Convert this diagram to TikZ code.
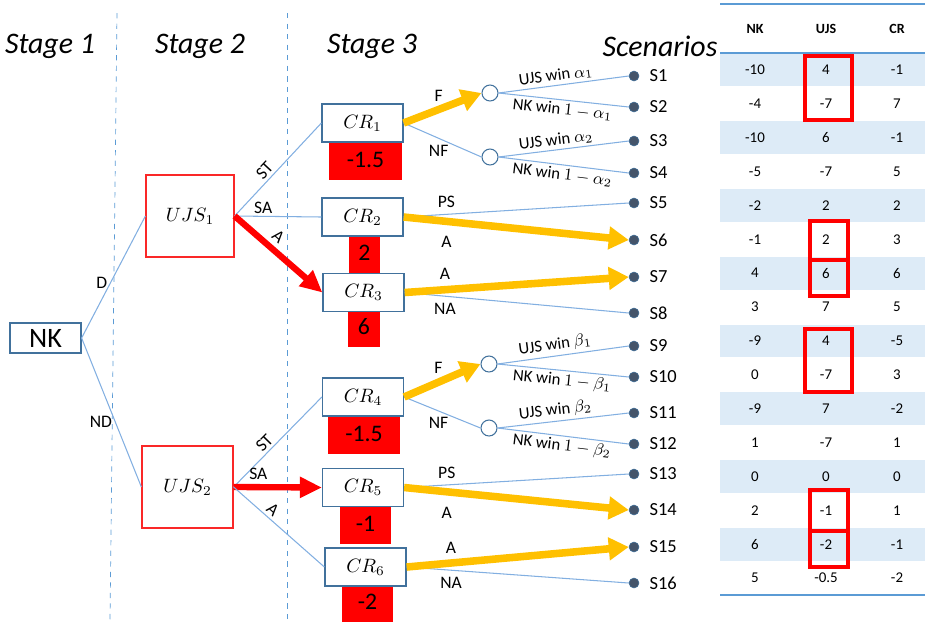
\documentclass[tikz,border=0pt]{standalone}
\usepackage{fix-cm}
\usepackage{fontspec}
\setmainfont{Carlito}
\usetikzlibrary{arrows.meta}
\definecolor{boxBlue}{RGB}{65,113,156}
\definecolor{lineBlue}{RGB}{130,175,225}
\definecolor{sepBlue}{RGB}{91,155,213}
\definecolor{arrYellow}{RGB}{255,192,0}
\definecolor{valRed}{RGB}{255,0,0}
\definecolor{ujsRed}{RGB}{250,40,40}
\definecolor{dotNavy}{RGB}{68,84,106}
\definecolor{rowShade}{RGB}{221,235,247}

\begin{document}
\begin{tikzpicture}[x=0.2mm, y=-0.2mm,
    stage/.style={font=\fontsize{17}{19}\selectfont\itshape},
    nkbox/.style={rectangle, draw=boxBlue, line width=0.7pt,
                  minimum width=14.2mm, minimum height=6mm, font=\fontsize{16}{18}\selectfont},
    ujsbox/.style={rectangle, draw=ujsRed, line width=0.7pt,
                   minimum width=17.6mm, minimum height=16.4mm, font=\fontsize{11}{14}\selectfont},
    crbox/.style={rectangle, draw=boxBlue, fill=white, line width=0.7pt,
                  minimum width=16.2mm, minimum height=7.6mm, font=\fontsize{11}{13}\selectfont},
    valbox/.style={rectangle, fill=valRed, minimum height=8mm, inner sep=0pt,
                   font=\fontsize{13.5}{15}\selectfont},
    chance/.style={circle, draw=boxBlue, fill=white, line width=0.6pt,
                   minimum size=3.2mm, inner sep=0pt},
    scen/.style={circle, fill=dotNavy, draw=boxBlue, line width=0.3pt,
                 minimum size=2mm, inner sep=0pt},
    slabel/.style={font=\fontsize{10.5}{12}\selectfont, inner sep=0pt, xshift=2mm},
    lab/.style={font=\fontsize{10}{12}\selectfont, inner sep=1.5pt},
    plab/.style={font=\fontsize{9.5}{11}\selectfont, sloped, inner sep=1.5pt},
    thead/.style={font=\fontsize{8}{10}\selectfont\bfseries},
    tcell/.style={font=\fontsize{8.5}{10}\selectfont},
    sep/.style={sepBlue, dashed, line width=0.4pt},
    br/.style={draw=lineBlue, line width=0.6pt},
    yarr/.style={draw=arrYellow, line width=4.3pt, -{Triangle[length=4mm, width=4.4mm]}},
    rarr/.style={draw=valRed, line width=3.6pt, -{Triangle[length=4.4mm, width=4mm]}},
    hilite/.style={draw=valRed, line width=0.7mm}
  ]
  \useasboundingbox (0,0) rectangle (925,621);

  % stage separators and headings
  \draw[sep] (117,13) -- (110,620);
  \draw[sep] (287,13) -- (287,620);
  \node[stage] (st1) at (50,46) {Stage 1};
  \node[stage] (st2) at (200,46) {Stage 2};
  \node[stage] (st3) at (372,46) {Stage 3};
  \node[stage] (scn) at (660,46) {Scenarios};

  \node[nkbox] (nk) at (45.5,338) {NK};
  \node[ujsbox] (ujs1) at (190,216) {$UJS_1$};
  \node[ujsbox, minimum width=18.2mm] (ujs2) at (187.5,487) {$UJS_2$};

  \node[valbox, minimum width=14.6mm] (v1) at (365.5,160) {-1.5};
  \node[valbox, minimum width=6.2mm]  (v2) at (364.5,253) {2};
  \node[valbox, minimum width=6.4mm]  (v3) at (364,327) {6};
  \node[valbox, minimum width=14.4mm] (v4) at (364,434) {-1.5};
  \node[valbox, minimum width=10.2mm] (v5) at (365.5,524) {-1};
  \node[valbox, minimum width=10.2mm] (v6) at (367.5,602) {-2};

  \node[crbox] (cr1) at (362.5,123) {$CR_1$};
  \node[crbox] (cr2) at (362.5,217) {$CR_2$};
  \node[crbox] (cr3) at (363.5,292.5) {$CR_3$};
  \node[crbox] (cr4) at (363,397) {$CR_4$};
  \node[crbox] (cr5) at (363,487.5) {$CR_5$};
  \node[crbox] (cr6) at (365.5,567) {$CR_6$};

  \node[chance] (c1) at (490,93) {};
  \node[chance] (c2) at (490,157) {};
  \node[chance] (c3) at (489,364) {};
  \node[chance] (c4) at (489,428) {};

  \foreach \yy [count=\i] in {76,107,141,173,203,240,277,313,346,377,413,444,474,510,547,583}
    \node[scen, label={[slabel]right:S\i}] (s\i) at (634,\yy) {};

  % stage 1 and 2
  \draw[br] (nk.east) -- node[lab, left, pos=0.45] {D} (ujs1.west);
  \draw[br] (nk.east) -- node[lab, left, pos=0.56] {ND} (ujs2.west);
  \draw[br] (ujs1.east) -- node[lab, sloped, above, pos=0.42] {ST} (cr1.west);
  \draw[br] (ujs1.east) -- node[lab, above, pos=0.33] {SA} (cr2.west);
  \draw[rarr] (ujs1.east) -- node[lab, sloped, above=1pt, pos=0.4] {A} (cr3.west);
  \draw[br] (ujs2.east) -- node[lab, sloped, above, pos=0.42] {ST} (cr4.west);
  \draw[rarr] (ujs2.east) -- node[lab, above=1pt, pos=0.28] {SA} (cr5.west);
  \draw[br] (ujs2.east) -- node[lab, sloped, above, pos=0.37] {A} (cr6.west);

  % stage 3
  \draw[br] (cr1.east) -- node[lab, below=2pt, pos=0.45] {NF} (c2.west);
  \draw[yarr] (cr1.east) -- node[lab, above=1pt, pos=0.45] {F} (c1.west);
  \draw[br] (c1.east) -- node[plab, above, pos=0.45] {UJS win $\alpha_1$} (s1.west);
  \draw[br] (c1.east) -- node[plab, below, pos=0.5] {NK win $1-\alpha_1$} (s2.west);
  \draw[br] (c2.east) -- node[plab, above, pos=0.45] {UJS win $\alpha_2$} (s3.west);
  \draw[br] (c2.east) -- node[plab, below, pos=0.5] {NK win $1-\alpha_2$} (s4.west);
  \draw[br] (cr2.east) -- node[lab, above=2pt, pos=0.19] {PS} (s5.west);
  \draw[yarr] (cr2.east) -- node[lab, below=5pt, pos=0.19] {A} (s6.west);
  \draw[br] (cr3.east) -- node[lab, below=2pt, pos=0.18] {NA} (s8.west);
  \draw[yarr] (cr3.east) -- node[lab, above=2pt, pos=0.18] {A} (s7.west);

  \draw[br] (cr4.east) -- node[lab, below=2pt, pos=0.45] {NF} (c4.west);
  \draw[yarr] (cr4.east) -- node[lab, above=1pt, pos=0.45] {F} (c3.west);
  \draw[br] (c3.east) -- node[plab, above, pos=0.45] {UJS win $\beta_1$} (s9.west);
  \draw[br] (c3.east) -- node[plab, below, pos=0.5] {NK win $1-\beta_1$} (s10.west);
  \draw[br] (c4.east) -- node[plab, above, pos=0.45] {UJS win $\beta_2$} (s11.west);
  \draw[br] (c4.east) -- node[plab, below, pos=0.5] {NK win $1-\beta_2$} (s12.west);
  \draw[br] (cr5.east) -- node[lab, above=2pt, pos=0.19] {PS} (s13.west);
  \draw[yarr] (cr5.east) -- node[lab, below=5pt, pos=0.19] {A} (s14.west);
  \draw[br] (cr6.east) -- node[lab, below=2pt, pos=0.2] {NA} (s16.west);
  \draw[yarr] (cr6.east) -- node[lab, above=2pt, pos=0.2] {A} (s15.west);

  % payoff table
  \draw[sepBlue, line width=0.6pt] (720,4) -- (925,4);
  \node[thead] (hnk) at (755,29) {NK};
  \node[thead] (hujs) at (826,29) {UJS};
  \node[thead] (hcr) at (897,29) {CR};
  \foreach \a/\b/\c [count=\r] in {-10/4/-1, -4/-7/7, -10/6/-1, -5/-7/5, -2/2/2, -1/2/3,
      4/6/6, 3/7/5, -9/4/-5, 0/-7/3, -9/7/-2, 1/-7/1, 0/0/0, 2/-1/1, 6/-2/-1, 5/-0.5/-2} {
    \pgfmathsetmacro\ry{53+33.875*(\r-0.5)}
    \ifodd\r \fill[rowShade] (720,\ry-16.4) rectangle (925,\ry+16.4); \fi
    \node[tcell] (tnk\r) at (755,\ry) {\a};
    \node[tcell] (tujs\r) at (826,\ry) {\b};
    \node[tcell] (tcr\r) at (897,\ry) {\c};
  }
  \draw[sepBlue, line width=0.9pt] (720,53) -- (925,53);
  \draw[sepBlue, line width=0.9pt] (720,595) -- (925,595);

  \draw[hilite] (805,56) rectangle (852,120);
  \draw[hilite] (810,221) rectangle (848,260);
  \draw[hilite] (810,260) rectangle (848,296);
  \draw[hilite] (805,329) rectangle (852,392);
  \draw[hilite] (810,490) rectangle (848,531);
  \draw[hilite] (810,531) rectangle (848,567);
\end{tikzpicture}
\end{document}
